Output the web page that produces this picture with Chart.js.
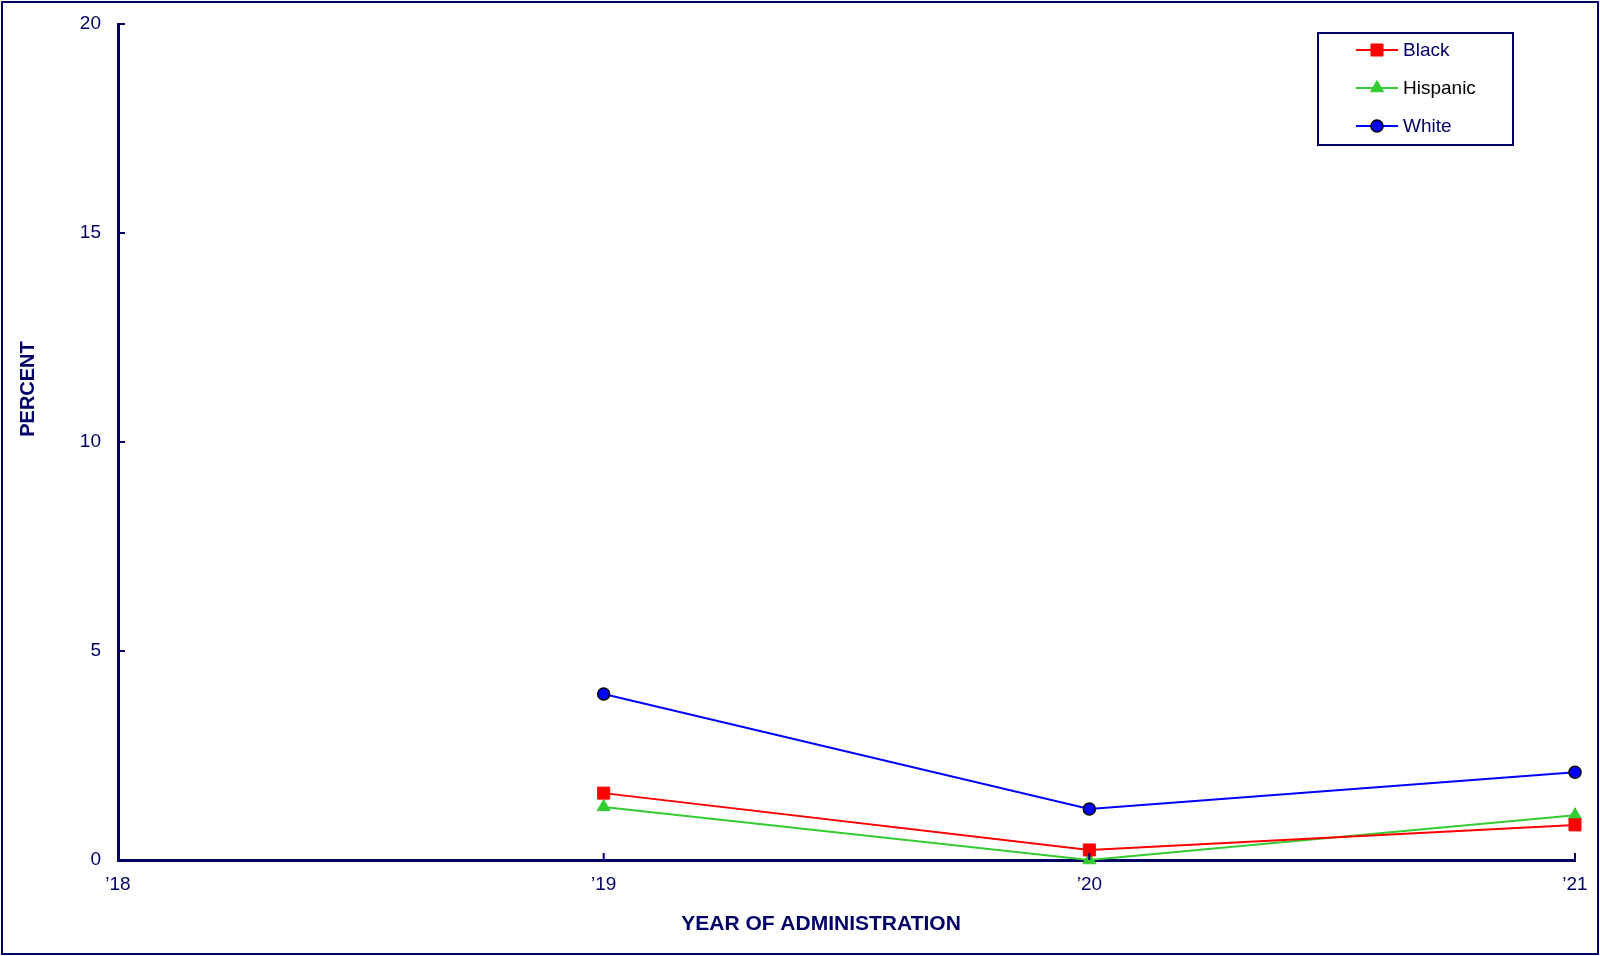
<!DOCTYPE html>
<html>
<head>
<meta charset="utf-8">
<script src="https://cdn.jsdelivr.net/npm/chart.js@4/dist/chart.umd.min.js"></script>
<style>
  html, body { margin: 0; padding: 0; background: #fff; }
  #wrap { width: 1600px; height: 956px; }
</style>
</head>
<body>
<div id="wrap"><canvas id="chart" width="1600" height="956"></canvas></div>
<script>
// Data
const years = ['\u201918', '\u201919', '\u201920', '\u201921'];
const black = [null, 1.6, 0.24, 0.84];
const hispanic = [null, 1.27, 0.0, 1.07];
const white = [null, 3.97, 1.22, 2.1];
const yTicks = [0, 5, 10, 15, 20];

const NAVY = '#000066';
const FONT = "'Liberation Sans', Arial, sans-serif";

// inward tick marks, titles, legend box and frame
const decor = {
    id: 'decor',
    afterDraw(chart) {
        const ctx = chart.ctx;
        const xs = chart.scales.x, ys = chart.scales.y;
        const area = chart.chartArea;
        ctx.save();
        ctx.strokeStyle = NAVY;
        ctx.lineWidth = 2;
        ys.ticks.forEach((t, i) => {
            if (i === 0) return;
            const y = ys.getPixelForTick(i);
            ctx.beginPath(); ctx.moveTo(area.left, y); ctx.lineTo(area.left + 7, y); ctx.stroke();
        });
        xs.ticks.forEach((t, i) => {
            if (i === 0) return;
            const x = xs.getPixelForTick(i);
            ctx.beginPath(); ctx.moveTo(x, area.bottom); ctx.lineTo(x, area.bottom - 7); ctx.stroke();
        });

        // axis titles
        ctx.fillStyle = NAVY;
        ctx.font = 'bold 21px ' + FONT;
        ctx.textAlign = 'center';
        ctx.textBaseline = 'middle';
        ctx.fillText('YEAR OF ADMINISTRATION', 821, 924);
        ctx.save();
        ctx.translate(28, 389);
        ctx.rotate(-Math.PI / 2);
        ctx.font = 'bold 20px ' + FONT;
        ctx.fillText('PERCENT', 0, 0);
        ctx.restore();

        // legend
        ctx.lineWidth = 2;
        ctx.strokeStyle = NAVY;
        ctx.strokeRect(1318, 33, 195, 112);
        const textColors = [NAVY, '#000000', NAVY];
        chart.data.datasets.forEach((ds, i) => {
            const y = 50 + i * 38;
            ctx.strokeStyle = ds.borderColor;
            ctx.lineWidth = 2;
            ctx.beginPath(); ctx.moveTo(1356, y); ctx.lineTo(1398, y); ctx.stroke();
            ctx.fillStyle = ds.pointBackgroundColor;
            ctx.strokeStyle = ds.pointBorderColor;
            ctx.lineWidth = ds.pointBorderWidth;
            Chart.helpers.drawPoint(ctx, {
                pointStyle: ds.pointStyle,
                radius: ds.pointRadius,
                borderWidth: ds.pointBorderWidth,
                rotation: 0
            }, 1377, y);
            ctx.fillStyle = textColors[i];
            ctx.font = '19px ' + FONT;
            ctx.textAlign = 'left';
            ctx.fillText(ds.label, 1403, y + 1);
        });

        // outer frame
        ctx.strokeStyle = NAVY;
        ctx.lineWidth = 2;
        ctx.strokeRect(2, 2, 1596, 952);
        ctx.restore();
    }
};

new Chart(document.getElementById('chart').getContext('2d'), {
    type: 'line',
    data: {
        labels: years,
        datasets: [
            {
                label: 'Black',
                data: black,
                borderColor: '#ff0000',
                borderWidth: 2,
                pointStyle: 'rect',
                pointRadius: 8.5,
                pointBackgroundColor: '#ff0000',
                pointBorderColor: '#ff0000',
                pointBorderWidth: 1,
                tension: 0,
                clip: false
            },
            {
                label: 'Hispanic',
                data: hispanic,
                borderColor: '#33cc33',
                borderWidth: 2,
                pointStyle: 'triangle',
                pointRadius: 7.5,
                pointBackgroundColor: '#33cc33',
                pointBorderColor: '#33cc33',
                pointBorderWidth: 1,
                tension: 0,
                clip: false
            },
            {
                label: 'White',
                data: white,
                borderColor: '#0000ff',
                borderWidth: 2,
                pointStyle: 'circle',
                pointRadius: 6,
                pointBackgroundColor: '#0000ff',
                pointBorderColor: '#000000',
                pointBorderWidth: 1.5,
                tension: 0,
                clip: false
            }
        ]
    },
    options: {
        responsive: false,
        animation: false,
        layout: { padding: { top: 24, right: 25, left: 0, bottom: 0 } },
        plugins: {
            legend: { display: false },
            tooltip: { enabled: false }
        },
        scales: {
            x: {
                type: 'category',
                offset: false,
                grid: { display: false, drawTicks: false },
                border: { display: true, color: NAVY, width: 3 },
                ticks: {
                    color: NAVY,
                    font: { family: FONT, size: 19 },
                    padding: 13,
                    maxRotation: 0,
                    autoSkip: false
                },
                afterFit(scale) { scale.height = 96; scale.paddingLeft = 0; scale.paddingRight = 0; }
            },
            y: {
                min: 0,
                max: 20,
                afterBuildTicks(scale) { scale.ticks = yTicks.map(v => ({ value: v })); },
                grid: { display: false, drawTicks: false },
                border: { display: true, color: NAVY, width: 3 },
                ticks: {
                    color: NAVY,
                    font: { family: FONT, size: 19 },
                    padding: 17
                },
                afterFit(scale) { scale.width = 118; scale.paddingTop = 0; scale.paddingBottom = 0; }
            }
        }
    },
    plugins: [decor]
});
</script>
</body>
</html>
